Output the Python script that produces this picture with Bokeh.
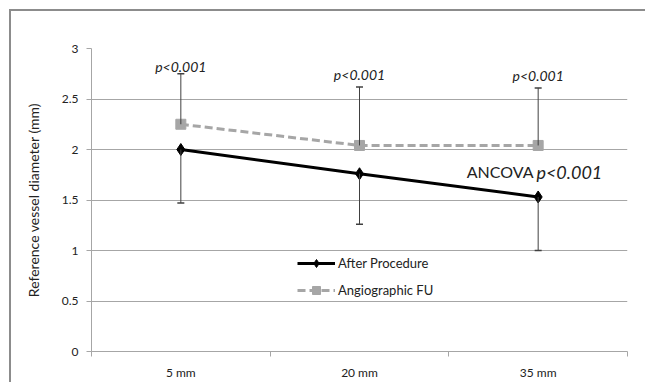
from bokeh.plotting import figure
from bokeh.layouts import column
from bokeh.models import (Range1d, FixedTicker, ColumnDataSource, Whisker, TeeHead,
                          Legend, LegendItem, Label)
from bokeh.core.properties import value
from bokeh.embed import file_html
from bokeh.resources import INLINE

categories = ["5 mm", "20 mm", "35 mm"]
after_procedure = [2.00, 1.76, 1.53]
after_lower = [1.47, 1.26, 1.00]
angiographic_fu = [2.25, 2.04, 2.04]
fu_upper = [2.75, 2.62, 2.61]
p_labels = ["p<0.001", "p<0.001", "p<0.001"]
p_label_y = [2.82, 2.74, 2.73]
y_ticks = [0, 0.5, 1, 1.5, 2, 2.5, 3]
y_tick_labels = ["0", "0.5", "1", "1.5", "2", "2.5", "3"]

FONT = "Lato"
GRID = "#a6a6a6"
TXT = "#222222"

xc = [i + 0.5 for i in range(len(categories))]
bounds = [float(i) for i in range(len(categories) + 1)]

p = figure(width=634, height=371, output_backend="svg", toolbar_location=None,
           x_range=Range1d(0, len(categories)), y_range=Range1d(0, 3),
           min_border_left=80, min_border_right=18, min_border_top=37, min_border_bottom=28)
p.outline_line_color = None
p.background_fill_color = "white"
p.border_fill_color = "white"

# axes
xa = p.xaxis[0]
xa.ticker = FixedTicker(ticks=xc, minor_ticks=bounds)
xa.major_label_overrides = {x: c for x, c in zip(xc, categories)}
xa.major_tick_out = 0
xa.major_tick_in = 0
xa.minor_tick_out = 5
xa.minor_tick_in = 0
xa.minor_tick_line_color = GRID
xa.axis_line_color = GRID
xa.major_label_standoff = 8
xa.major_label_text_font = FONT
xa.major_label_text_font_size = "12px"
xa.major_label_text_color = TXT

ya = p.yaxis[0]
ya.ticker = FixedTicker(ticks=y_ticks)
ya.major_label_overrides = {t: l for t, l in zip(y_ticks, y_tick_labels)}
ya.major_tick_out = 5
ya.major_tick_in = 0
ya.minor_tick_line_color = None
ya.major_tick_line_color = GRID
ya.axis_line_color = GRID
ya.major_label_standoff = 8
ya.major_label_text_font = FONT
ya.major_label_text_font_size = "12px"
ya.major_label_text_color = TXT
ya.axis_label = "Reference vessel diameter (mm)"
ya.axis_label_text_font = FONT
ya.axis_label_text_font_size = "14px"
ya.axis_label_text_font_style = "normal"
ya.axis_label_text_color = TXT
ya.axis_label_standoff = 17

p.xgrid.visible = False
p.ygrid.ticker = FixedTicker(ticks=y_ticks)
p.ygrid.grid_line_color = GRID
p.ygrid.grid_line_width = 1

# error bars
src_fu = ColumnDataSource(dict(x=xc, base=angiographic_fu, up=fu_upper))
src_ap = ColumnDataSource(dict(x=xc, base=after_procedure, low=after_lower))
w1 = Whisker(source=src_fu, base="x", lower="base", upper="up", dimension="height",
             line_color="#404040", line_width=1, lower_head=None,
             upper_head=TeeHead(size=7, line_color="#404040", line_width=1.5), level="glyph")
w2 = Whisker(source=src_ap, base="x", lower="low", upper="base", dimension="height",
             line_color="#404040", line_width=1, upper_head=None,
             lower_head=TeeHead(size=7, line_color="#404040", line_width=1.5), level="glyph")
p.add_layout(w1)
p.add_layout(w2)

# series
l_fu = p.line(xc, angiographic_fu, line_color="#a6a6a6", line_width=3, line_dash="8 4")
m_fu = p.scatter(xc, angiographic_fu, marker="square", size=10, fill_color="#a6a6a6",
                 line_color="#a6a6a6")
l_ap = p.line(xc, after_procedure, line_color="black", line_width=3)
m_ap = p.scatter(xc, after_procedure, marker="diamond", size=12, fill_color="black",
                 line_color="black")

legend = Legend(items=[LegendItem(label="After Procedure", renderers=[l_ap, m_ap]),
                       LegendItem(label="Angiographic FU", renderers=[l_fu, m_fu])],
                location=(206, 51), orientation="vertical",
                glyph_width=38, glyph_height=20, spacing=7, label_standoff=3,
                padding=0, margin=0, border_line_color=None, background_fill_alpha=0,
                label_text_font=FONT, label_text_font_size="13px", label_text_color=TXT)
p.add_layout(legend)

# p-value labels
p.text(xc, p_label_y, text=p_labels, text_font=value(FONT), text_font_style="italic",
       text_font_size="14px", text_align="center", text_baseline="middle", text_color=TXT)

# ANCOVA annotation
p.add_layout(Label(x=2.474, y=1.78, text="ANCOVA", text_font=FONT, text_font_size="16px",
                   text_align="right", text_baseline="middle", text_color=TXT))
p.add_layout(Label(x=2.49, y=1.78, text="p<0.001", text_font=FONT, text_font_size="18px",
                   text_font_style="italic", text_align="left", text_baseline="middle",
                   text_color=TXT))

layout = column(p, margin=(9, 0, 0, 9),
                styles={"border-left": "2px solid #8c8c8c", "border-top": "2px solid #8c8c8c",
                        "border-right": "none", "border-bottom": "none"})

open("out.html", "w").write(file_html(layout, INLINE))
